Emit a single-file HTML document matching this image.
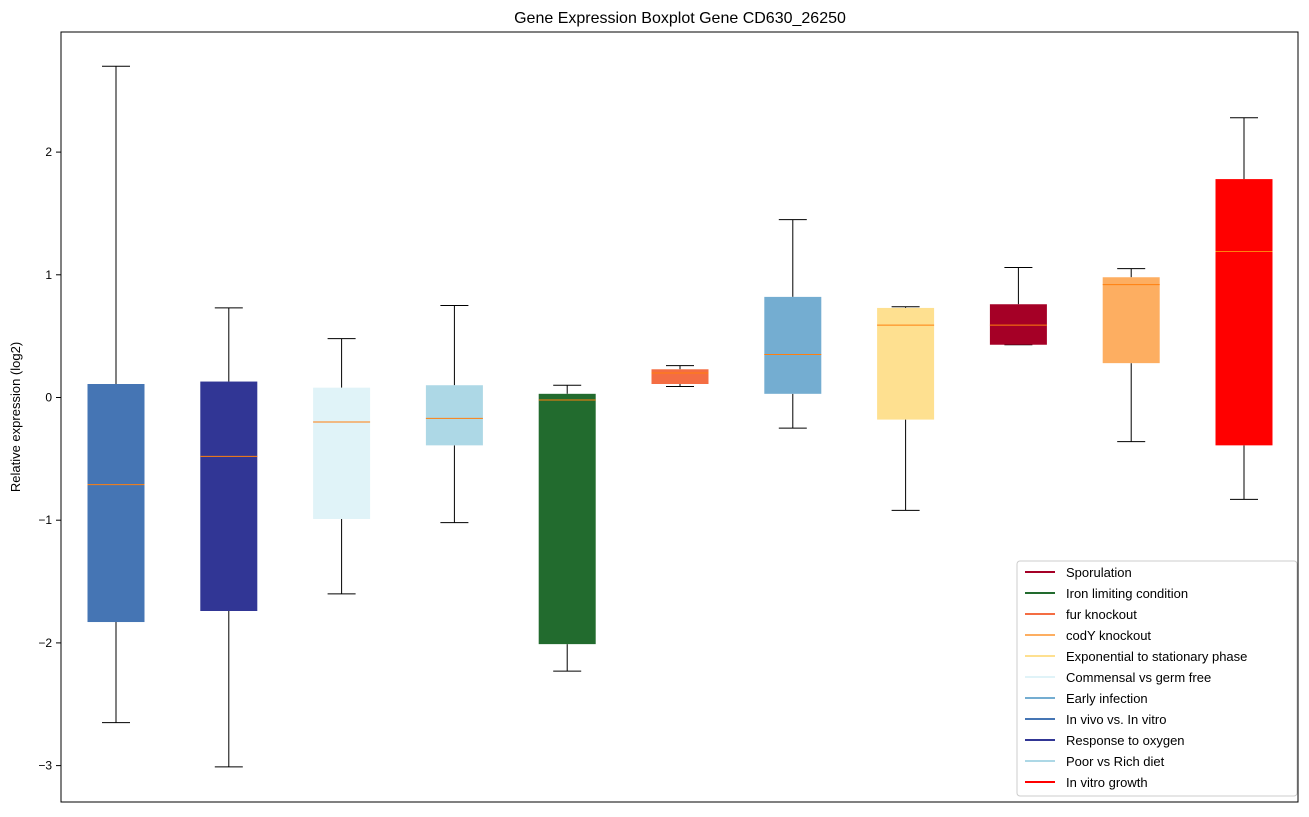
<!DOCTYPE html>
<html><head><meta charset="utf-8"><style>
body{margin:0;background:#fff;font-family:"Liberation Sans",sans-serif}
</style></head><body>
<svg id="chart" width="1309" height="812" xmlns="http://www.w3.org/2000/svg">
<text x="680" y="23" text-anchor="middle" font-size="16">Gene Expression Boxplot Gene CD630_26250</text>
<text transform="translate(20,417) rotate(-90)" text-anchor="middle" font-size="13">Relative expression (log2)</text>
<g id="plot"></g>
<rect x="61" y="32" width="1237" height="770" fill="none" stroke="#000" stroke-width="1"/>
</svg>
<script>
const categories=["In vivo vs. In vitro","Response to oxygen","Commensal vs germ free","Poor vs Rich diet","Iron limiting condition","fur knockout","Early infection","Exponential to stationary phase","Sporulation","codY knockout","In vitro growth"];
const whiskerLow=[-2.65,-3.01,-1.60,-1.02,-2.23,0.09,-0.25,-0.92,0.43,-0.36,-0.83];
const q1Values=[-1.83,-1.74,-0.99,-0.39,-2.01,0.11,0.03,-0.18,0.43,0.28,-0.39];
const medianValues=[-0.71,-0.48,-0.20,-0.17,-0.02,0.20,0.35,0.59,0.59,0.92,1.19];
const q3Values=[0.11,0.13,0.08,0.10,0.03,0.23,0.82,0.73,0.76,0.98,1.78];
const whiskerHigh=[2.70,0.73,0.48,0.75,0.10,0.26,1.45,0.74,1.06,1.05,2.28];
const colors=["#4575b4","#313695","#e0f3f8","#add8e6","#226b2e","#f46d43","#74add1","#fee090","#a50026","#fdae61","#ff0000"];
const yTicks=[-3,-2,-1,0,1,2];
const legendOrder=[8,4,5,9,7,2,6,0,1,3,10];
const NS="http://www.w3.org/2000/svg";
const g=document.getElementById('plot');
const y=v=>397.5-v*122.7;
const x=i=>116+i*112.8;
function mk(t,a){const e=document.createElementNS(NS,t);for(const k in a)e.setAttribute(k,a[k]);g.appendChild(e);return e;}
yTicks.forEach(t=>{
 const l=mk('line',{x1:56,x2:61,y1:y(t),y2:y(t),stroke:'#000'});
 
 
 const tx=mk('text',{x:52,y:y(t)+4,'text-anchor':'end','font-size':12});
 tx.textContent=t<0?'\u2212'+(-t):String(t);
 
 
});
categories.forEach((c,i)=>{
 const cx=x(i),w=57;
 const wl=mk('line',{x1:cx,x2:cx,y1:y(whiskerLow[i]),y2:y(q1Values[i]),stroke:'#000'});
 
 
 const wh=mk('line',{x1:cx,x2:cx,y1:y(q3Values[i]),y2:y(whiskerHigh[i]),stroke:'#000'});
 
 
 [whiskerLow[i],whiskerHigh[i]].forEach(v=>{
  const cap=mk('line',{x1:cx-14,x2:cx+14,y1:y(v),y2:y(v),stroke:'#000'});
  
  
 });
 const b=mk('rect',{x:cx-w/2,y:y(q3Values[i]),width:w,height:Math.max(1,y(q1Values[i])-y(q3Values[i])),fill:colors[i]});
 
 
 const m=mk('line',{x1:cx-w/2,x2:cx+w/2,y1:y(medianValues[i]),y2:y(medianValues[i]),stroke:'#ff7f0e','stroke-width':1});
 
 
});
const lg=mk('rect',{x:1017,y:561,width:280,height:235,fill:'#fff',stroke:'#ccc',rx:3});


legendOrder.forEach((ci,k)=>{
 const ly=572+k*21;
 const ll=mk('line',{x1:1025,x2:1055,y1:ly,y2:ly,stroke:colors[ci],'stroke-width':2});
 
 
 const t=mk('text',{x:1066,y:ly+5,'font-size':13});
 t.textContent=categories[ci];
 
 
});
</script>
</body></html>
